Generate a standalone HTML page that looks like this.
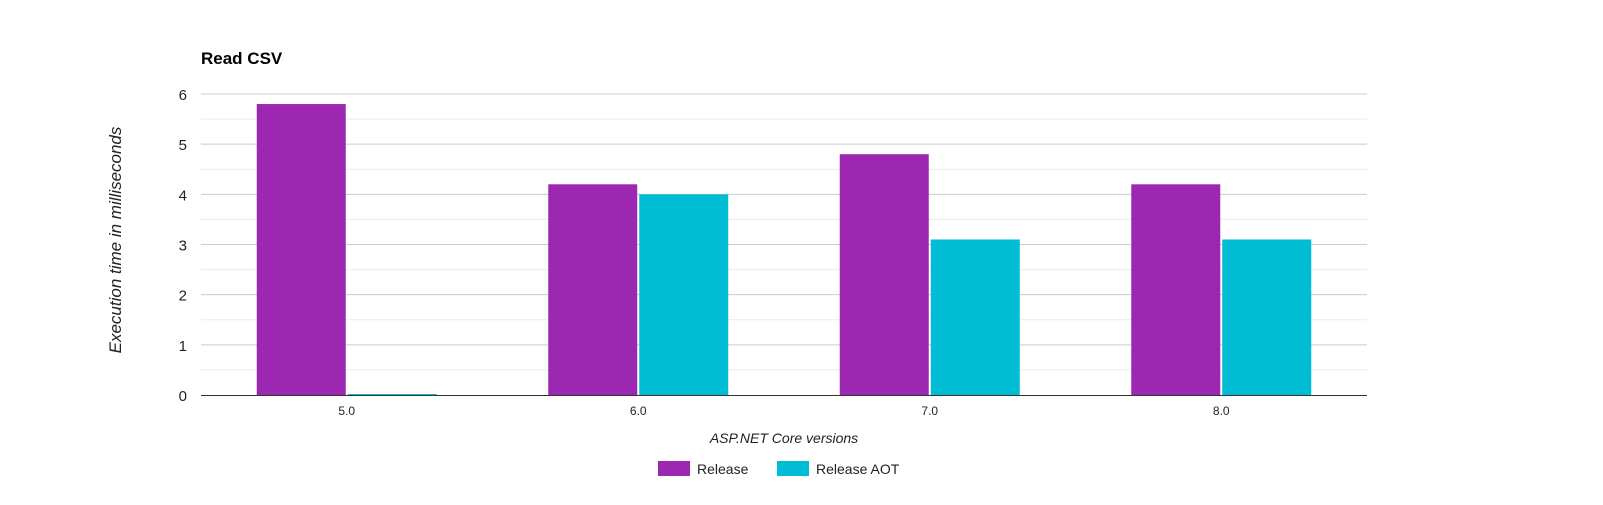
<!DOCTYPE html>
<html><head><meta charset="utf-8"><style>
body{margin:0;background:#fff;}
svg text{font-family:"Liberation Sans",Arial,sans-serif;}
</style></head><body>
<svg id="chart" width="1603" height="500" xmlns="http://www.w3.org/2000/svg">
<rect width="1603" height="500" fill="#fff"/>
<text x="201" y="64" font-size="17" font-weight="bold" fill="#000">Read CSV</text>
<g id="grid"></g>
<g id="bars"></g>
<g id="labels"></g>
<text transform="translate(121,240) rotate(-90)" text-anchor="middle" font-size="17" font-style="italic" fill="#222">Execution time in milliseconds</text>
<text x="784" y="443" text-anchor="middle" font-size="14" font-style="italic" fill="#222">ASP.NET Core versions</text>
<g>
<rect x="658" y="461" width="32" height="15" fill="#9c27b0"/>
<text x="697" y="474" font-size="14" fill="#222">Release</text>
<rect x="777" y="461" width="32" height="15" fill="#00bcd4"/>
<text x="816" y="474" font-size="14" fill="#222">Release AOT</text>
</g>
</svg>
<script>
const categories=["5.0","6.0","7.0","8.0"];
const releaseValues=[5.8,4.2,4.8,4.2];
const aotValues=[0,4.0,3.1,3.1];
const yTicks=[0,1,2,3,4,5,6];
const NS="http://www.w3.org/2000/svg";
const left=201,right=1367,y0=395,y6=94,maxV=6;
function yS(v){return y0-(y0-y6)*v/maxV;}
const bw=(right-left)/categories.length;
function xC(i){return left+bw*(i+0.5);}
function mk(tag,attrs,parent){const e=document.createElementNS(NS,tag);for(const k in attrs)e.setAttribute(k,attrs[k]);parent.appendChild(e);return e;}
const grid=document.getElementById('grid'),bars=document.getElementById('bars'),labels=document.getElementById('labels');
for(let v=0.5;v<maxV;v+=1){
 const l=mk('line',{x1:left,x2:right,y1:yS(v),y2:yS(v),stroke:'#ebebeb','stroke-width':1},grid);
 
 
}
yTicks.forEach(t=>{
 if(t>0){const l=mk('line',{x1:left,x2:right,y1:yS(t),y2:yS(t),stroke:'#cccccc','stroke-width':1},grid);
 
 }
 const tx=mk('text',{x:187,y:yS(t)+6,'text-anchor':'end','font-size':15,fill:'#222'},labels);
 tx.textContent=t;
 
 
});
const barW=89;
categories.forEach((c,i)=>{
 const cx=xC(i);
 const r=mk('rect',{x:cx-barW-1,y:yS(releaseValues[i]),width:barW,height:y0-yS(releaseValues[i]),fill:'#9c27b0'},bars);
 
 
 const a=mk('rect',{x:cx+1,y:yS(aotValues[i])-(aotValues[i]===0?1:0),width:barW,height:Math.max(1,y0-yS(aotValues[i])),fill:'#00bcd4'},bars);
 
 
 const t=mk('text',{x:cx,y:415,'text-anchor':'middle','font-size':12,fill:'#222'},labels);
 t.textContent=c;
 
 
});
const ax=mk('line',{x1:left,x2:right,y1:y0+0.5,y2:y0+0.5,stroke:'#333','stroke-width':1},labels);


</script>
</body></html>
